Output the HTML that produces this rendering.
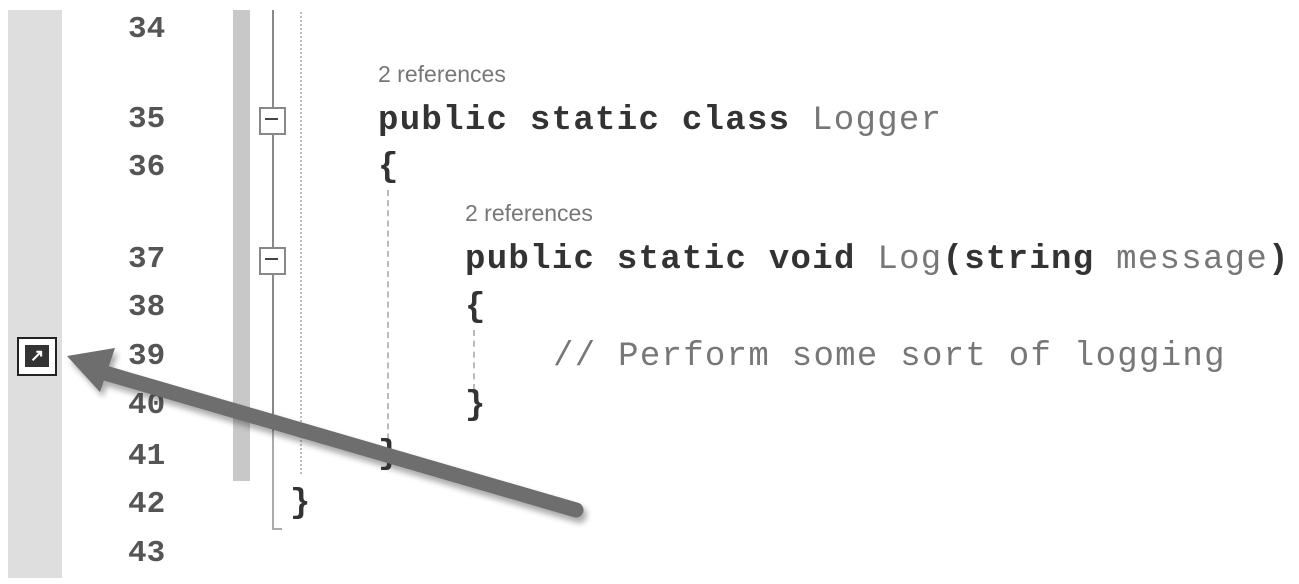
<!DOCTYPE html>
<html><head><meta charset="utf-8"><style>
body{margin:0;width:1299px;height:584px;background:#fff;position:relative;overflow:hidden}
.a{position:absolute;white-space:pre;line-height:1}
.n{font-family:"Liberation Mono",monospace;font-size:31px;color:#555;font-weight:bold;left:128px}
.c{font-family:"Liberation Mono",monospace;font-size:34px;font-weight:bold;color:#333;letter-spacing:1.3px}
.r{font-family:"Liberation Sans",sans-serif;font-size:23px;color:#777}
.g{color:#777;font-weight:normal}
</style></head><body>
<div style="position:absolute;left:8px;top:10px;width:54px;height:568px;background:#dedede"></div>
<div style="position:absolute;left:233px;top:10px;width:17px;height:471px;background:#c8c8c8"></div>
<div style="position:absolute;left:272px;top:10px;width:2px;height:421px;background:#888"></div>
<div style="position:absolute;left:272px;top:431px;width:2px;height:99px;background:#aaa"></div>
<div style="position:absolute;left:272px;top:528px;width:10px;height:2px;background:#aaa"></div>
<div style="position:absolute;left:300px;top:12px;width:0;height:462px;border-left:2px dotted #bbb"></div>
<div style="position:absolute;left:387px;top:190px;width:0;height:280px;border-left:2px dashed #bbb"></div>
<div style="position:absolute;left:473px;top:330px;width:0;height:60px;border-left:2px dashed #bbb"></div>
<div style="position:absolute;left:259px;top:107px;width:23px;height:24px;border:2px solid #888;background:#fff"></div>
<div style="position:absolute;left:265px;top:118px;width:13px;height:2px;background:#444"></div>
<div style="position:absolute;left:259px;top:247px;width:23px;height:24px;border:2px solid #888;background:#fff"></div>
<div style="position:absolute;left:265px;top:258px;width:13px;height:2px;background:#444"></div>
<div style="position:absolute;left:17px;top:337px;width:36px;height:35px;border:2px solid #222;background:#fff"></div>
<div style="position:absolute;left:25px;top:345px;width:24px;height:22px;background:#333;color:#fff;font:bold 17px 'Liberation Sans',sans-serif;text-align:center;line-height:22px">↗</div>

<div class="a n" style="top:14px">34</div>
<div class="a n" style="top:104px">35</div>
<div class="a n" style="top:152px">36</div>
<div class="a n" style="top:244px">37</div>
<div class="a n" style="top:292px">38</div>
<div class="a n" style="top:341px">39</div>
<div class="a n" style="top:390px">40</div>
<div class="a n" style="top:441px">41</div>
<div class="a n" style="top:489px">42</div>
<div class="a n" style="top:538px">43</div>

<div class="a r" style="left:378px;top:63px">2 references</div>
<div class="a c" style="left:378px;top:104px">public static class <span class="g">Logger</span></div>
<div class="a c" style="left:378px;top:151px">{</div>
<div class="a r" style="left:465px;top:202px">2 references</div>
<div class="a c" style="left:465px;top:243px">public static void <span class="g">Log</span>(string <span class="g">message</span>)</div>
<div class="a c" style="left:465px;top:291px">{</div>
<div class="a c g" style="left:553px;top:340px">// Perform some sort of logging</div>
<div class="a c" style="left:465px;top:389px">}</div>
<div class="a c" style="left:378px;top:438px">}</div>
<div class="a c" style="left:290px;top:487px">}</div>

<svg style="position:absolute;left:0;top:0" width="1299" height="584">
<defs><filter id="s" x="-10%" y="-50%" width="120%" height="200%"><feGaussianBlur stdDeviation="3"/></filter></defs>
<g filter="url(#s)" opacity="0.4" transform="translate(3,5)">
<line x1="576" y1="510" x2="105" y2="373" stroke="#333" stroke-width="16" stroke-linecap="round"/>
<polygon points="67,356 115,348 100,392" fill="#333"/></g>
<line x1="576" y1="510" x2="105" y2="373" stroke="#6e6e6e" stroke-width="15" stroke-linecap="round"/>
<polygon points="67,356 115,348 100,392" fill="#6e6e6e"/>
</svg>
</body></html>
